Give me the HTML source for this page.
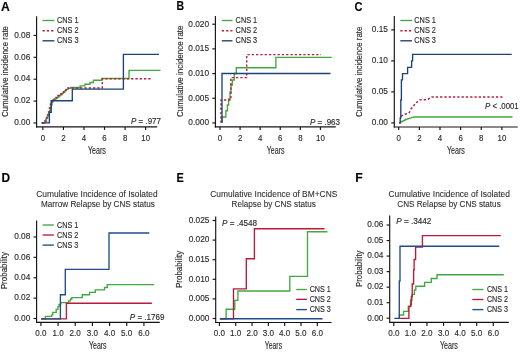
<!DOCTYPE html>
<html><head><meta charset="utf-8"><style>
html,body{margin:0;padding:0;background:#fff;}
svg{display:block;will-change:transform;}
text{font-family:"Liberation Sans", sans-serif;stroke:#2b2b2b;stroke-width:0.15px;}
text.t{stroke-width:0.08px;}
</style></head><body>
<svg width="520" height="352" viewBox="0 0 520 352" fill="#2b2b2b">
<rect width="520" height="352" fill="#fff"/>
<text x="1.00" y="11.00" font-size="12.2" font-weight="bold" fill="#000">A</text>
<line x1="36.60" y1="16.20" x2="36.60" y2="127.48" stroke="#141414" stroke-width="1.15"/>
<line x1="36.02" y1="126.90" x2="157.20" y2="126.90" stroke="#141414" stroke-width="1.15"/>
<line x1="33.50" y1="122.95" x2="36.60" y2="122.95" stroke="#141414" stroke-width="1.15"/>
<text x="30.30" y="125.25" font-size="9.2" text-anchor="end" textLength="16.15" lengthAdjust="spacingAndGlyphs">0.00</text>
<line x1="33.50" y1="101.07" x2="36.60" y2="101.07" stroke="#141414" stroke-width="1.15"/>
<text x="30.30" y="103.37" font-size="9.2" text-anchor="end" textLength="16.15" lengthAdjust="spacingAndGlyphs">0.02</text>
<line x1="33.50" y1="79.19" x2="36.60" y2="79.19" stroke="#141414" stroke-width="1.15"/>
<text x="30.30" y="81.49" font-size="9.2" text-anchor="end" textLength="16.15" lengthAdjust="spacingAndGlyphs">0.04</text>
<line x1="33.50" y1="57.31" x2="36.60" y2="57.31" stroke="#141414" stroke-width="1.15"/>
<text x="30.30" y="59.61" font-size="9.2" text-anchor="end" textLength="16.15" lengthAdjust="spacingAndGlyphs">0.06</text>
<line x1="33.50" y1="35.43" x2="36.60" y2="35.43" stroke="#141414" stroke-width="1.15"/>
<text x="30.30" y="37.73" font-size="9.2" text-anchor="end" textLength="16.15" lengthAdjust="spacingAndGlyphs">0.08</text>
<line x1="42.85" y1="126.90" x2="42.85" y2="129.90" stroke="#141414" stroke-width="1.15"/>
<text x="42.85" y="140.50" font-size="9.4" text-anchor="middle" textLength="4.39" lengthAdjust="spacingAndGlyphs">0</text>
<line x1="63.41" y1="126.90" x2="63.41" y2="129.90" stroke="#141414" stroke-width="1.15"/>
<text x="63.41" y="140.50" font-size="9.4" text-anchor="middle" textLength="4.39" lengthAdjust="spacingAndGlyphs">2</text>
<line x1="83.97" y1="126.90" x2="83.97" y2="129.90" stroke="#141414" stroke-width="1.15"/>
<text x="83.97" y="140.50" font-size="9.4" text-anchor="middle" textLength="4.39" lengthAdjust="spacingAndGlyphs">4</text>
<line x1="104.53" y1="126.90" x2="104.53" y2="129.90" stroke="#141414" stroke-width="1.15"/>
<text x="104.53" y="140.50" font-size="9.4" text-anchor="middle" textLength="4.39" lengthAdjust="spacingAndGlyphs">6</text>
<line x1="125.09" y1="126.90" x2="125.09" y2="129.90" stroke="#141414" stroke-width="1.15"/>
<text x="125.09" y="140.50" font-size="9.4" text-anchor="middle" textLength="4.39" lengthAdjust="spacingAndGlyphs">8</text>
<line x1="145.65" y1="126.90" x2="145.65" y2="129.90" stroke="#141414" stroke-width="1.15"/>
<text x="145.65" y="140.50" font-size="9.4" text-anchor="middle" textLength="8.79" lengthAdjust="spacingAndGlyphs">10</text>
<text x="88.00" y="153.50" font-size="10.2" textLength="17.80" lengthAdjust="spacingAndGlyphs">Years</text>
<text x="8.20" y="117.00" font-size="9.2" textLength="91.00" lengthAdjust="spacingAndGlyphs" transform="rotate(-90 8.20 117.00)">Cumulative incidence rate</text>
<line x1="42.50" y1="20.50" x2="54.40" y2="20.50" stroke="#42a840" stroke-width="1.35"/>
<text x="56.90" y="23.10" font-size="9.0" textLength="21.60" lengthAdjust="spacingAndGlyphs">CNS 1</text>
<line x1="42.50" y1="30.70" x2="54.40" y2="30.70" stroke="#b81f3a" stroke-width="1.6" stroke-dasharray="2.3 2.0"/>
<text x="56.90" y="33.30" font-size="9.0" textLength="21.60" lengthAdjust="spacingAndGlyphs">CNS 2</text>
<line x1="42.50" y1="40.80" x2="54.40" y2="40.80" stroke="#1b4373" stroke-width="1.35"/>
<text x="56.90" y="43.40" font-size="9.0" textLength="21.60" lengthAdjust="spacingAndGlyphs">CNS 3</text>
<text x="131.00" y="123.90" font-size="8.8" textLength="30.00" lengthAdjust="spacingAndGlyphs"><tspan font-style="italic">P</tspan> = .977</text>
<polyline points="41.50,122.90 44.90,122.90 44.90,121.00 45.80,121.00 45.80,119.50 46.50,119.50 46.50,118.00 47.20,118.00 47.20,116.50 48.00,116.50 48.00,114.50 48.80,114.50 48.80,112.50 49.60,112.50 49.60,110.50 50.40,110.50 50.40,108.00 51.20,108.00 51.20,105.00 52.00,105.00 52.00,102.00 52.90,102.00 52.90,100.00 54.50,100.00 54.50,99.00 56.20,99.00 56.20,98.10 57.60,98.10 57.60,97.00 59.00,97.00 59.00,95.90 60.50,95.90 60.50,94.70 62.00,94.70 62.00,93.40 63.50,93.40 63.50,92.00 65.00,92.00 65.00,90.60 66.50,90.60 66.50,89.30 68.20,89.30 68.20,88.30 70.50,88.30 70.50,87.50 80.20,87.50 80.20,85.90 84.90,85.90 84.90,84.20 90.00,84.20 90.00,82.50 93.40,82.50 93.40,80.20 102.00,80.20 102.00,78.50 129.00,78.50 129.00,70.30 160.50,70.30" fill="none" stroke="#42a840" stroke-width="1.35"/>
<polyline points="42.00,122.90 45.00,122.90 45.00,121.00 46.50,121.00 46.50,118.00 47.50,118.00 47.50,115.00 48.50,115.00 48.50,112.00 49.50,112.00 49.50,108.00 50.50,108.00 50.50,104.00 52.00,104.00 52.00,101.50 54.00,101.50 54.00,99.50 56.00,99.50 56.00,97.50 58.00,97.50 58.00,95.50 60.00,95.50 60.00,93.80 62.00,93.80 62.00,92.00 64.00,92.00 64.00,90.00 66.30,90.00 66.30,87.90 102.30,87.90 102.30,78.70 151.30,78.70" fill="none" stroke="#b81f3a" stroke-width="1.45" stroke-dasharray="2.3 2.0"/>
<polyline points="41.50,122.90 49.40,122.90 49.40,112.30 51.20,112.30 51.20,100.70 72.30,100.70 72.30,89.10 123.40,89.10 123.40,54.30 159.00,54.30" fill="none" stroke="#1b4373" stroke-width="1.35"/>
<text x="176.60" y="10.40" font-size="12.2" textLength="7.60" lengthAdjust="spacingAndGlyphs" font-weight="bold" fill="#000">B</text>
<line x1="215.40" y1="16.00" x2="215.40" y2="127.48" stroke="#141414" stroke-width="1.15"/>
<line x1="214.82" y1="126.90" x2="335.75" y2="126.90" stroke="#141414" stroke-width="1.15"/>
<line x1="212.30" y1="122.95" x2="215.40" y2="122.95" stroke="#141414" stroke-width="1.15"/>
<text x="209.10" y="125.25" font-size="9.2" text-anchor="end" textLength="20.77" lengthAdjust="spacingAndGlyphs">0.000</text>
<line x1="212.30" y1="98.27" x2="215.40" y2="98.27" stroke="#141414" stroke-width="1.15"/>
<text x="209.10" y="100.56" font-size="9.2" text-anchor="end" textLength="20.77" lengthAdjust="spacingAndGlyphs">0.005</text>
<line x1="212.30" y1="73.58" x2="215.40" y2="73.58" stroke="#141414" stroke-width="1.15"/>
<text x="209.10" y="75.88" font-size="9.2" text-anchor="end" textLength="20.77" lengthAdjust="spacingAndGlyphs">0.010</text>
<line x1="212.30" y1="48.90" x2="215.40" y2="48.90" stroke="#141414" stroke-width="1.15"/>
<text x="209.10" y="51.20" font-size="9.2" text-anchor="end" textLength="20.77" lengthAdjust="spacingAndGlyphs">0.015</text>
<line x1="212.30" y1="24.21" x2="215.40" y2="24.21" stroke="#141414" stroke-width="1.15"/>
<text x="209.10" y="26.51" font-size="9.2" text-anchor="end" textLength="20.77" lengthAdjust="spacingAndGlyphs">0.020</text>
<line x1="220.00" y1="126.90" x2="220.00" y2="129.90" stroke="#141414" stroke-width="1.15"/>
<text x="220.00" y="140.50" font-size="9.4" text-anchor="middle" textLength="4.39" lengthAdjust="spacingAndGlyphs">0</text>
<line x1="240.08" y1="126.90" x2="240.08" y2="129.90" stroke="#141414" stroke-width="1.15"/>
<text x="240.08" y="140.50" font-size="9.4" text-anchor="middle" textLength="4.39" lengthAdjust="spacingAndGlyphs">2</text>
<line x1="260.16" y1="126.90" x2="260.16" y2="129.90" stroke="#141414" stroke-width="1.15"/>
<text x="260.16" y="140.50" font-size="9.4" text-anchor="middle" textLength="4.39" lengthAdjust="spacingAndGlyphs">4</text>
<line x1="280.24" y1="126.90" x2="280.24" y2="129.90" stroke="#141414" stroke-width="1.15"/>
<text x="280.24" y="140.50" font-size="9.4" text-anchor="middle" textLength="4.39" lengthAdjust="spacingAndGlyphs">6</text>
<line x1="300.32" y1="126.90" x2="300.32" y2="129.90" stroke="#141414" stroke-width="1.15"/>
<text x="300.32" y="140.50" font-size="9.4" text-anchor="middle" textLength="4.39" lengthAdjust="spacingAndGlyphs">8</text>
<line x1="320.40" y1="126.90" x2="320.40" y2="129.90" stroke="#141414" stroke-width="1.15"/>
<text x="320.40" y="140.50" font-size="9.4" text-anchor="middle" textLength="8.79" lengthAdjust="spacingAndGlyphs">10</text>
<text x="266.80" y="153.50" font-size="10.2" textLength="17.80" lengthAdjust="spacingAndGlyphs">Years</text>
<text x="182.50" y="117.00" font-size="9.2" textLength="91.50" lengthAdjust="spacingAndGlyphs" transform="rotate(-90 182.50 117.00)">Cumulative incidence rate</text>
<line x1="221.80" y1="20.50" x2="232.50" y2="20.50" stroke="#42a840" stroke-width="1.35"/>
<text x="235.60" y="23.10" font-size="9.0" textLength="21.60" lengthAdjust="spacingAndGlyphs">CNS 1</text>
<line x1="221.80" y1="30.70" x2="232.50" y2="30.70" stroke="#b81f3a" stroke-width="1.6" stroke-dasharray="2.3 2.0"/>
<text x="235.60" y="33.30" font-size="9.0" textLength="21.60" lengthAdjust="spacingAndGlyphs">CNS 2</text>
<line x1="221.80" y1="40.80" x2="232.50" y2="40.80" stroke="#1b4373" stroke-width="1.35"/>
<text x="235.60" y="43.40" font-size="9.0" textLength="21.60" lengthAdjust="spacingAndGlyphs">CNS 3</text>
<text x="310.00" y="124.70" font-size="8.8" textLength="30.00" lengthAdjust="spacingAndGlyphs"><tspan font-style="italic">P</tspan> = .963</text>
<polyline points="222.00,122.80 222.00,117.00 225.90,117.00 225.90,110.70 227.40,110.70 227.40,105.00 228.60,105.00 228.60,99.00 230.00,99.00 230.00,92.00 231.00,92.00 231.00,85.00 232.30,85.00 232.30,80.00 234.30,80.00 234.30,73.50 236.30,73.50 236.30,67.70 275.90,67.70 275.90,57.40 331.75,57.40" fill="none" stroke="#42a840" stroke-width="1.35"/>
<polyline points="221.00,122.80 221.00,99.90 230.90,99.90 230.90,77.60 246.70,77.60 246.70,54.60 321.00,54.60" fill="none" stroke="#b81f3a" stroke-width="1.45" stroke-dasharray="2.3 2.0"/>
<polyline points="222.00,122.80 222.00,73.50 330.50,73.50" fill="none" stroke="#1b4373" stroke-width="1.35"/>
<text x="354.50" y="10.90" font-size="12.2" textLength="8.00" lengthAdjust="spacingAndGlyphs" font-weight="bold" fill="#000">C</text>
<line x1="394.30" y1="16.00" x2="394.30" y2="127.53" stroke="#141414" stroke-width="1.15"/>
<line x1="393.72" y1="126.95" x2="517.70" y2="126.95" stroke="#141414" stroke-width="1.15"/>
<line x1="391.20" y1="122.90" x2="394.30" y2="122.90" stroke="#141414" stroke-width="1.15"/>
<text x="388.00" y="125.20" font-size="9.2" text-anchor="end" textLength="16.15" lengthAdjust="spacingAndGlyphs">0.00</text>
<line x1="391.20" y1="91.90" x2="394.30" y2="91.90" stroke="#141414" stroke-width="1.15"/>
<text x="388.00" y="94.20" font-size="9.2" text-anchor="end" textLength="16.15" lengthAdjust="spacingAndGlyphs">0.05</text>
<line x1="391.20" y1="60.90" x2="394.30" y2="60.90" stroke="#141414" stroke-width="1.15"/>
<text x="388.00" y="63.20" font-size="9.2" text-anchor="end" textLength="16.15" lengthAdjust="spacingAndGlyphs">0.10</text>
<line x1="391.20" y1="29.90" x2="394.30" y2="29.90" stroke="#141414" stroke-width="1.15"/>
<text x="388.00" y="32.20" font-size="9.2" text-anchor="end" textLength="16.15" lengthAdjust="spacingAndGlyphs">0.15</text>
<line x1="398.70" y1="126.95" x2="398.70" y2="129.95" stroke="#141414" stroke-width="1.15"/>
<text x="398.70" y="140.50" font-size="9.4" text-anchor="middle" textLength="4.39" lengthAdjust="spacingAndGlyphs">0</text>
<line x1="419.34" y1="126.95" x2="419.34" y2="129.95" stroke="#141414" stroke-width="1.15"/>
<text x="419.34" y="140.50" font-size="9.4" text-anchor="middle" textLength="4.39" lengthAdjust="spacingAndGlyphs">2</text>
<line x1="439.98" y1="126.95" x2="439.98" y2="129.95" stroke="#141414" stroke-width="1.15"/>
<text x="439.98" y="140.50" font-size="9.4" text-anchor="middle" textLength="4.39" lengthAdjust="spacingAndGlyphs">4</text>
<line x1="460.62" y1="126.95" x2="460.62" y2="129.95" stroke="#141414" stroke-width="1.15"/>
<text x="460.62" y="140.50" font-size="9.4" text-anchor="middle" textLength="4.39" lengthAdjust="spacingAndGlyphs">6</text>
<line x1="481.26" y1="126.95" x2="481.26" y2="129.95" stroke="#141414" stroke-width="1.15"/>
<text x="481.26" y="140.50" font-size="9.4" text-anchor="middle" textLength="4.39" lengthAdjust="spacingAndGlyphs">8</text>
<line x1="501.90" y1="126.95" x2="501.90" y2="129.95" stroke="#141414" stroke-width="1.15"/>
<text x="501.90" y="140.50" font-size="9.4" text-anchor="middle" textLength="8.79" lengthAdjust="spacingAndGlyphs">10</text>
<text x="447.00" y="153.50" font-size="10.2" textLength="17.80" lengthAdjust="spacingAndGlyphs">Years</text>
<text x="362.20" y="116.90" font-size="9.2" textLength="90.20" lengthAdjust="spacingAndGlyphs" transform="rotate(-90 362.20 116.90)">Cumulative incidence rate</text>
<line x1="400.30" y1="20.50" x2="412.00" y2="20.50" stroke="#42a840" stroke-width="1.35"/>
<text x="414.30" y="23.10" font-size="9.0" textLength="21.60" lengthAdjust="spacingAndGlyphs">CNS 1</text>
<line x1="400.30" y1="30.70" x2="412.00" y2="30.70" stroke="#b81f3a" stroke-width="1.6" stroke-dasharray="2.3 2.0"/>
<text x="414.30" y="33.30" font-size="9.0" textLength="21.60" lengthAdjust="spacingAndGlyphs">CNS 2</text>
<line x1="400.30" y1="40.80" x2="412.00" y2="40.80" stroke="#1b4373" stroke-width="1.35"/>
<text x="414.30" y="43.40" font-size="9.0" textLength="21.60" lengthAdjust="spacingAndGlyphs">CNS 3</text>
<text x="485.00" y="108.50" font-size="8.8" textLength="33.70" lengthAdjust="spacingAndGlyphs"><tspan font-style="italic">P</tspan> &lt; .0001</text>
<polyline points="399,123 403,121 406,119.5 411,117.8 414,117 512.5,117" fill="none" stroke="#42a840" stroke-width="1.4"/>
<polyline points="401,116.4 404,114.4 408,113.6 409.5,112.4 411,109 413.5,106.2 415.5,102.8 418,101.6 420,99.9 425,99.7 428,99.4 431.5,96.9 502.5,96.9" fill="none" stroke="#b81f3a" stroke-width="1.45" stroke-dasharray="2.3 2.0"/>
<polyline points="399.30,123.00 400.20,123.00 400.20,118.00 400.80,118.00 400.80,100.00 401.40,100.00 401.40,79.80 402.50,79.80 402.50,73.60 407.60,73.60 407.60,67.30 411.60,67.30 411.60,60.80 412.60,60.80 412.60,54.40 511.75,54.40" fill="none" stroke="#1b4373" stroke-width="1.35"/>
<text x="1.50" y="181.80" font-size="12.2" textLength="8.60" lengthAdjust="spacingAndGlyphs" font-weight="bold" fill="#000">D</text>
<text x="36.30" y="196.80" font-size="9.0" class="t" textLength="121.30" lengthAdjust="spacingAndGlyphs">Cumulative Incidence of Isolated</text>
<text x="40.90" y="206.50" font-size="9.0" class="t" textLength="114.00" lengthAdjust="spacingAndGlyphs">Marrow Relapse by CNS status</text>
<line x1="36.60" y1="220.40" x2="36.60" y2="322.98" stroke="#141414" stroke-width="1.15"/>
<line x1="36.02" y1="322.40" x2="159.75" y2="322.40" stroke="#141414" stroke-width="1.15"/>
<line x1="33.50" y1="318.50" x2="36.60" y2="318.50" stroke="#141414" stroke-width="1.15"/>
<text x="30.30" y="320.80" font-size="9.2" text-anchor="end" textLength="16.15" lengthAdjust="spacingAndGlyphs">0.00</text>
<line x1="33.50" y1="298.12" x2="36.60" y2="298.12" stroke="#141414" stroke-width="1.15"/>
<text x="30.30" y="300.42" font-size="9.2" text-anchor="end" textLength="16.15" lengthAdjust="spacingAndGlyphs">0.02</text>
<line x1="33.50" y1="277.74" x2="36.60" y2="277.74" stroke="#141414" stroke-width="1.15"/>
<text x="30.30" y="280.04" font-size="9.2" text-anchor="end" textLength="16.15" lengthAdjust="spacingAndGlyphs">0.04</text>
<line x1="33.50" y1="257.36" x2="36.60" y2="257.36" stroke="#141414" stroke-width="1.15"/>
<text x="30.30" y="259.66" font-size="9.2" text-anchor="end" textLength="16.15" lengthAdjust="spacingAndGlyphs">0.06</text>
<line x1="33.50" y1="236.98" x2="36.60" y2="236.98" stroke="#141414" stroke-width="1.15"/>
<text x="30.30" y="239.28" font-size="9.2" text-anchor="end" textLength="16.15" lengthAdjust="spacingAndGlyphs">0.08</text>
<line x1="40.90" y1="322.40" x2="40.90" y2="325.90" stroke="#141414" stroke-width="1.15"/>
<text x="40.90" y="335.70" font-size="9.6" text-anchor="middle" textLength="11.26" lengthAdjust="spacingAndGlyphs">0.0</text>
<line x1="58.07" y1="322.40" x2="58.07" y2="325.90" stroke="#141414" stroke-width="1.15"/>
<text x="58.07" y="335.70" font-size="9.6" text-anchor="middle" textLength="11.26" lengthAdjust="spacingAndGlyphs">1.0</text>
<line x1="75.24" y1="322.40" x2="75.24" y2="325.90" stroke="#141414" stroke-width="1.15"/>
<text x="75.24" y="335.70" font-size="9.6" text-anchor="middle" textLength="11.26" lengthAdjust="spacingAndGlyphs">2.0</text>
<line x1="92.41" y1="322.40" x2="92.41" y2="325.90" stroke="#141414" stroke-width="1.15"/>
<text x="92.41" y="335.70" font-size="9.6" text-anchor="middle" textLength="11.26" lengthAdjust="spacingAndGlyphs">3.0</text>
<line x1="109.58" y1="322.40" x2="109.58" y2="325.90" stroke="#141414" stroke-width="1.15"/>
<text x="109.58" y="335.70" font-size="9.6" text-anchor="middle" textLength="11.26" lengthAdjust="spacingAndGlyphs">4.0</text>
<line x1="126.75" y1="322.40" x2="126.75" y2="325.90" stroke="#141414" stroke-width="1.15"/>
<text x="126.75" y="335.70" font-size="9.6" text-anchor="middle" textLength="11.26" lengthAdjust="spacingAndGlyphs">5.0</text>
<line x1="143.92" y1="322.40" x2="143.92" y2="325.90" stroke="#141414" stroke-width="1.15"/>
<text x="143.92" y="335.70" font-size="9.6" text-anchor="middle" textLength="11.26" lengthAdjust="spacingAndGlyphs">6.0</text>
<text x="89.00" y="349.30" font-size="10.2" textLength="17.60" lengthAdjust="spacingAndGlyphs">Years</text>
<text x="7.50" y="289.20" font-size="9.5" textLength="37.20" lengthAdjust="spacingAndGlyphs" transform="rotate(-90 7.50 289.20)">Probability</text>
<line x1="42.60" y1="225.00" x2="53.80" y2="225.00" stroke="#42a840" stroke-width="1.35"/>
<text x="56.90" y="227.60" font-size="9.0" textLength="21.40" lengthAdjust="spacingAndGlyphs">CNS 1</text>
<line x1="42.60" y1="235.00" x2="53.80" y2="235.00" stroke="#bd1a3a" stroke-width="1.35"/>
<text x="56.90" y="237.60" font-size="9.0" textLength="21.40" lengthAdjust="spacingAndGlyphs">CNS 2</text>
<line x1="42.60" y1="245.10" x2="53.80" y2="245.10" stroke="#1f4d8a" stroke-width="1.35"/>
<text x="56.90" y="247.70" font-size="9.0" textLength="21.40" lengthAdjust="spacingAndGlyphs">CNS 3</text>
<text x="129.75" y="320.00" font-size="8.8" textLength="34.80" lengthAdjust="spacingAndGlyphs"><tspan font-style="italic">P</tspan> = .1769</text>
<polyline points="41.20,318.90 45.40,318.90 45.40,316.30 51.60,316.30 51.60,314.80 52.80,314.80 52.80,312.30 56.20,312.30 56.20,309.40 57.90,309.40 57.90,306.60 59.00,306.60 59.00,304.30 60.70,304.30 60.70,302.60 68.70,302.60 68.70,300.90 70.50,300.90 70.50,299.00 71.80,299.00 71.80,297.60 82.30,297.60 82.30,294.70 89.60,294.70 89.60,292.30 95.30,292.30 95.30,289.90 104.50,289.90 104.50,287.50 107.30,287.50 107.30,284.60 154.25,284.60" fill="none" stroke="#42a840" stroke-width="1.35"/>
<polyline points="41.20,318.90 66.40,318.90 66.40,303.20 151.90,303.20" fill="none" stroke="#bd1a3a" stroke-width="1.35"/>
<polyline points="41.20,318.90 60.40,318.90 60.40,294.70 65.30,294.70 65.30,269.30 109.00,269.30 109.00,233.00 149.30,233.00" fill="none" stroke="#1f4d8a" stroke-width="1.35"/>
<text x="176.50" y="181.90" font-size="12.2" textLength="7.30" lengthAdjust="spacingAndGlyphs" font-weight="bold" fill="#000">E</text>
<text x="210.30" y="196.80" font-size="9.0" class="t" textLength="127.00" lengthAdjust="spacingAndGlyphs">Cumulative Incidence of BM+CNS</text>
<text x="231.60" y="206.50" font-size="9.0" class="t" textLength="84.20" lengthAdjust="spacingAndGlyphs">Relapse by CNS status</text>
<line x1="215.70" y1="216.60" x2="215.70" y2="323.03" stroke="#141414" stroke-width="1.15"/>
<line x1="215.12" y1="322.45" x2="331.60" y2="322.45" stroke="#141414" stroke-width="1.15"/>
<line x1="212.60" y1="318.50" x2="215.70" y2="318.50" stroke="#141414" stroke-width="1.15"/>
<text x="209.40" y="320.80" font-size="9.2" text-anchor="end" textLength="20.77" lengthAdjust="spacingAndGlyphs">0.000</text>
<line x1="212.60" y1="298.90" x2="215.70" y2="298.90" stroke="#141414" stroke-width="1.15"/>
<text x="209.40" y="301.20" font-size="9.2" text-anchor="end" textLength="20.77" lengthAdjust="spacingAndGlyphs">0.005</text>
<line x1="212.60" y1="279.30" x2="215.70" y2="279.30" stroke="#141414" stroke-width="1.15"/>
<text x="209.40" y="281.60" font-size="9.2" text-anchor="end" textLength="20.77" lengthAdjust="spacingAndGlyphs">0.010</text>
<line x1="212.60" y1="259.70" x2="215.70" y2="259.70" stroke="#141414" stroke-width="1.15"/>
<text x="209.40" y="262.00" font-size="9.2" text-anchor="end" textLength="20.77" lengthAdjust="spacingAndGlyphs">0.015</text>
<line x1="212.60" y1="240.10" x2="215.70" y2="240.10" stroke="#141414" stroke-width="1.15"/>
<text x="209.40" y="242.40" font-size="9.2" text-anchor="end" textLength="20.77" lengthAdjust="spacingAndGlyphs">0.020</text>
<line x1="212.60" y1="220.50" x2="215.70" y2="220.50" stroke="#141414" stroke-width="1.15"/>
<text x="209.40" y="222.80" font-size="9.2" text-anchor="end" textLength="20.77" lengthAdjust="spacingAndGlyphs">0.025</text>
<line x1="219.40" y1="322.45" x2="219.40" y2="325.95" stroke="#141414" stroke-width="1.15"/>
<text x="219.40" y="335.70" font-size="9.6" text-anchor="middle" textLength="11.26" lengthAdjust="spacingAndGlyphs">0.0</text>
<line x1="235.72" y1="322.45" x2="235.72" y2="325.95" stroke="#141414" stroke-width="1.15"/>
<text x="235.72" y="335.70" font-size="9.6" text-anchor="middle" textLength="11.26" lengthAdjust="spacingAndGlyphs">1.0</text>
<line x1="252.04" y1="322.45" x2="252.04" y2="325.95" stroke="#141414" stroke-width="1.15"/>
<text x="252.04" y="335.70" font-size="9.6" text-anchor="middle" textLength="11.26" lengthAdjust="spacingAndGlyphs">2.0</text>
<line x1="268.36" y1="322.45" x2="268.36" y2="325.95" stroke="#141414" stroke-width="1.15"/>
<text x="268.36" y="335.70" font-size="9.6" text-anchor="middle" textLength="11.26" lengthAdjust="spacingAndGlyphs">3.0</text>
<line x1="284.68" y1="322.45" x2="284.68" y2="325.95" stroke="#141414" stroke-width="1.15"/>
<text x="284.68" y="335.70" font-size="9.6" text-anchor="middle" textLength="11.26" lengthAdjust="spacingAndGlyphs">4.0</text>
<line x1="301.00" y1="322.45" x2="301.00" y2="325.95" stroke="#141414" stroke-width="1.15"/>
<text x="301.00" y="335.70" font-size="9.6" text-anchor="middle" textLength="11.26" lengthAdjust="spacingAndGlyphs">5.0</text>
<line x1="317.32" y1="322.45" x2="317.32" y2="325.95" stroke="#141414" stroke-width="1.15"/>
<text x="317.32" y="335.70" font-size="9.6" text-anchor="middle" textLength="11.26" lengthAdjust="spacingAndGlyphs">6.0</text>
<text x="264.70" y="349.20" font-size="10.2" textLength="17.40" lengthAdjust="spacingAndGlyphs">Years</text>
<text x="182.20" y="288.00" font-size="9.5" textLength="37.20" lengthAdjust="spacingAndGlyphs" transform="rotate(-90 182.20 288.00)">Probability</text>
<line x1="296.20" y1="289.50" x2="306.90" y2="289.50" stroke="#42a840" stroke-width="1.35"/>
<text x="309.70" y="292.10" font-size="9.0" textLength="21.10" lengthAdjust="spacingAndGlyphs">CNS 1</text>
<line x1="296.20" y1="299.30" x2="306.90" y2="299.30" stroke="#bd1a3a" stroke-width="1.35"/>
<text x="309.70" y="301.90" font-size="9.0" textLength="21.10" lengthAdjust="spacingAndGlyphs">CNS 2</text>
<line x1="296.20" y1="309.60" x2="306.90" y2="309.60" stroke="#1f4d8a" stroke-width="1.35"/>
<text x="309.70" y="312.20" font-size="9.0" textLength="21.10" lengthAdjust="spacingAndGlyphs">CNS 3</text>
<text x="222.00" y="225.70" font-size="8.8" textLength="35.00" lengthAdjust="spacingAndGlyphs"><tspan font-style="italic">P</tspan> = .4548</text>
<polyline points="220.00,318.70 226.10,318.70 226.10,309.20 234.80,309.20 234.80,300.30 237.90,300.30 237.90,291.00 289.80,291.00 289.80,276.40 307.50,276.40 307.50,231.70 327.40,231.70" fill="none" stroke="#42a840" stroke-width="1.35"/>
<polyline points="220.00,318.70 233.50,318.70 233.50,288.80 246.30,288.80 246.30,258.70 254.40,258.70 254.40,228.70 324.60,228.70" fill="none" stroke="#bd1a3a" stroke-width="1.35"/>
<polyline points="219.80,318.70 322.50,318.70" fill="none" stroke="#1f4d8a" stroke-width="1.35"/>
<text x="355.30" y="181.90" font-size="12.2" font-weight="bold" fill="#000">F</text>
<text x="388.50" y="196.80" font-size="9.0" class="t" textLength="121.30" lengthAdjust="spacingAndGlyphs">Cumulative Incidence of Isolated</text>
<text x="397.30" y="206.50" font-size="9.0" class="t" textLength="103.40" lengthAdjust="spacingAndGlyphs">CNS Relapse by CNS status</text>
<line x1="389.70" y1="215.50" x2="389.70" y2="322.98" stroke="#141414" stroke-width="1.15"/>
<line x1="389.12" y1="322.40" x2="508.80" y2="322.40" stroke="#141414" stroke-width="1.15"/>
<line x1="386.60" y1="318.20" x2="389.70" y2="318.20" stroke="#141414" stroke-width="1.15"/>
<text x="383.40" y="320.50" font-size="9.2" text-anchor="end" textLength="16.15" lengthAdjust="spacingAndGlyphs">0.00</text>
<line x1="386.60" y1="302.67" x2="389.70" y2="302.67" stroke="#141414" stroke-width="1.15"/>
<text x="383.40" y="304.97" font-size="9.2" text-anchor="end" textLength="16.15" lengthAdjust="spacingAndGlyphs">0.01</text>
<line x1="386.60" y1="287.14" x2="389.70" y2="287.14" stroke="#141414" stroke-width="1.15"/>
<text x="383.40" y="289.44" font-size="9.2" text-anchor="end" textLength="16.15" lengthAdjust="spacingAndGlyphs">0.02</text>
<line x1="386.60" y1="271.61" x2="389.70" y2="271.61" stroke="#141414" stroke-width="1.15"/>
<text x="383.40" y="273.91" font-size="9.2" text-anchor="end" textLength="16.15" lengthAdjust="spacingAndGlyphs">0.03</text>
<line x1="386.60" y1="256.08" x2="389.70" y2="256.08" stroke="#141414" stroke-width="1.15"/>
<text x="383.40" y="258.38" font-size="9.2" text-anchor="end" textLength="16.15" lengthAdjust="spacingAndGlyphs">0.04</text>
<line x1="386.60" y1="240.55" x2="389.70" y2="240.55" stroke="#141414" stroke-width="1.15"/>
<text x="383.40" y="242.85" font-size="9.2" text-anchor="end" textLength="16.15" lengthAdjust="spacingAndGlyphs">0.05</text>
<line x1="386.60" y1="225.02" x2="389.70" y2="225.02" stroke="#141414" stroke-width="1.15"/>
<text x="383.40" y="227.32" font-size="9.2" text-anchor="end" textLength="16.15" lengthAdjust="spacingAndGlyphs">0.06</text>
<line x1="393.80" y1="322.40" x2="393.80" y2="325.90" stroke="#141414" stroke-width="1.15"/>
<text x="393.80" y="335.70" font-size="9.6" text-anchor="middle" textLength="11.26" lengthAdjust="spacingAndGlyphs">0.0</text>
<line x1="410.38" y1="322.40" x2="410.38" y2="325.90" stroke="#141414" stroke-width="1.15"/>
<text x="410.38" y="335.70" font-size="9.6" text-anchor="middle" textLength="11.26" lengthAdjust="spacingAndGlyphs">1.0</text>
<line x1="426.96" y1="322.40" x2="426.96" y2="325.90" stroke="#141414" stroke-width="1.15"/>
<text x="426.96" y="335.70" font-size="9.6" text-anchor="middle" textLength="11.26" lengthAdjust="spacingAndGlyphs">2.0</text>
<line x1="443.54" y1="322.40" x2="443.54" y2="325.90" stroke="#141414" stroke-width="1.15"/>
<text x="443.54" y="335.70" font-size="9.6" text-anchor="middle" textLength="11.26" lengthAdjust="spacingAndGlyphs">3.0</text>
<line x1="460.12" y1="322.40" x2="460.12" y2="325.90" stroke="#141414" stroke-width="1.15"/>
<text x="460.12" y="335.70" font-size="9.6" text-anchor="middle" textLength="11.26" lengthAdjust="spacingAndGlyphs">4.0</text>
<line x1="476.70" y1="322.40" x2="476.70" y2="325.90" stroke="#141414" stroke-width="1.15"/>
<text x="476.70" y="335.70" font-size="9.6" text-anchor="middle" textLength="11.26" lengthAdjust="spacingAndGlyphs">5.0</text>
<line x1="493.28" y1="322.40" x2="493.28" y2="325.90" stroke="#141414" stroke-width="1.15"/>
<text x="493.28" y="335.70" font-size="9.6" text-anchor="middle" textLength="11.26" lengthAdjust="spacingAndGlyphs">6.0</text>
<text x="440.00" y="349.40" font-size="10.2" textLength="17.80" lengthAdjust="spacingAndGlyphs">Years</text>
<text x="362.00" y="287.00" font-size="9.5" textLength="36.50" lengthAdjust="spacingAndGlyphs" transform="rotate(-90 362.00 287.00)">Probability</text>
<line x1="472.30" y1="289.50" x2="483.40" y2="289.50" stroke="#42a840" stroke-width="1.35"/>
<text x="486.90" y="292.10" font-size="9.0" textLength="21.10" lengthAdjust="spacingAndGlyphs">CNS 1</text>
<line x1="472.30" y1="299.50" x2="483.40" y2="299.50" stroke="#bd1a3a" stroke-width="1.35"/>
<text x="486.90" y="302.10" font-size="9.0" textLength="21.10" lengthAdjust="spacingAndGlyphs">CNS 2</text>
<line x1="472.30" y1="309.60" x2="483.40" y2="309.60" stroke="#1f4d8a" stroke-width="1.35"/>
<text x="486.90" y="312.20" font-size="9.0" textLength="21.10" lengthAdjust="spacingAndGlyphs">CNS 3</text>
<text x="396.25" y="224.40" font-size="8.8" textLength="35.00" lengthAdjust="spacingAndGlyphs"><tspan font-style="italic">P</tspan> = .3442</text>
<polyline points="399.30,318.30 399.30,315.00 403.60,315.00 403.60,311.40 408.30,311.40 408.30,306.20 410.50,306.20 410.50,300.00 412.00,300.00 412.00,294.40 414.40,294.40 414.40,290.00 415.80,290.00 415.80,286.20 424.60,286.20 424.60,282.40 431.25,282.40 431.25,278.50 437.00,278.50 437.00,274.75 503.75,274.75" fill="none" stroke="#42a840" stroke-width="1.35"/>
<polyline points="399.30,318.30 408.90,318.30 408.90,306.60 410.70,306.60 410.70,304.50 411.40,304.50 411.40,296.60 412.20,296.60 412.20,284.00 413.60,284.00 413.60,270.00 414.10,270.00 414.10,259.50 415.60,259.50 415.60,247.00 422.40,247.00 422.40,235.60 500.75,235.60" fill="none" stroke="#bd1a3a" stroke-width="1.35"/>
<polyline points="394.30,318.30 399.30,318.30 399.30,281.00 400.00,281.00 400.00,246.25 499.25,246.25" fill="none" stroke="#1f4d8a" stroke-width="1.35"/>
</svg>
</body></html>
